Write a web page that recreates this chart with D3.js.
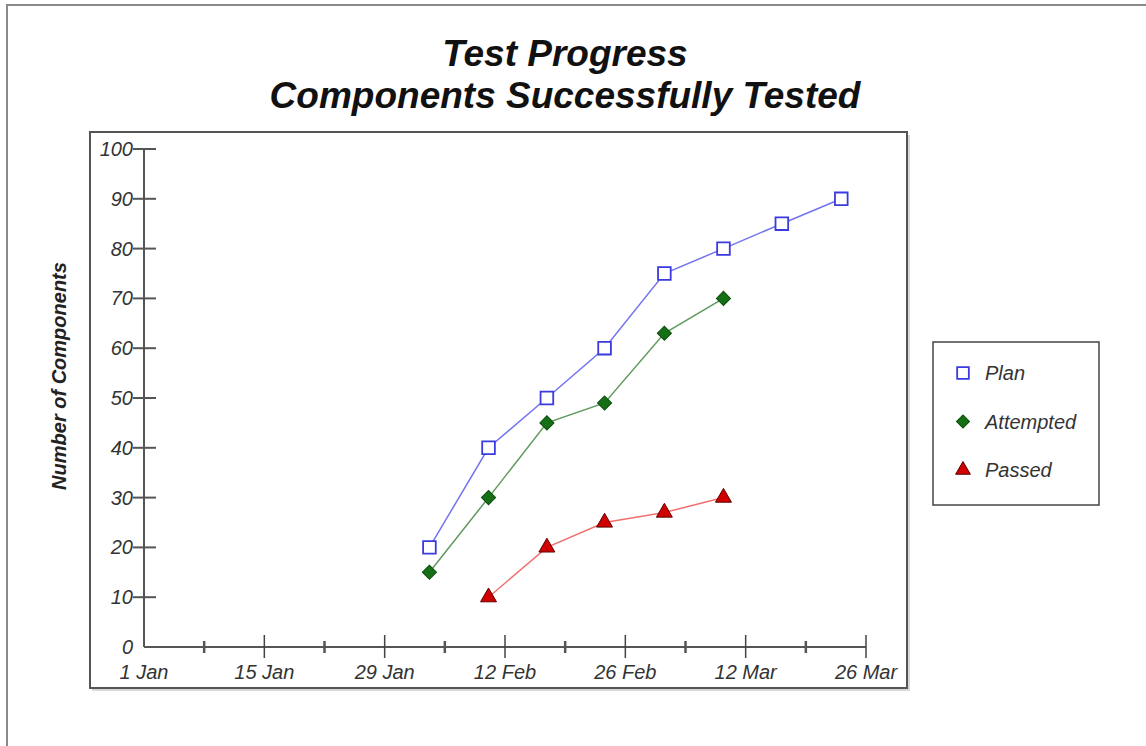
<!DOCTYPE html>
<html>
<head>
<meta charset="utf-8">
<title>Test Progress</title>
<script src="https://cdn.jsdelivr.net/npm/d3@7"></script>
<style>
	html, body { margin: 0; padding: 0; background: #fff; }
	svg { display: block; font-family: "Liberation Sans", Arial, sans-serif; }
	.tick-label { font-size: 20px; font-style: italic; fill: #333; }
	.legend-label { font-size: 20px; font-style: italic; fill: #333; }
</style>
</head>
<body>
<svg id="chart" width="1146" height="746"></svg>
<script>

// weekly reporting dates
var dates = ['2003-02-03T05:00', '2003-02-10T02:00', '2003-02-16T21:00', '2003-02-23T14:00',
	'2003-03-02T13:00', '2003-03-09T10:00', '2003-03-16T05:00', '2003-03-23T03:00'];
var planValues = [20, 40, 50, 60, 75, 80, 85, 90];
var attemptedValues = [15, 30, 45, 49, 63, 70];
var passedValues = [null, 10, 20, 25, 27, 30];

var seriesNames = ['Plan', 'Attempted', 'Passed'];
var xTickLabels = ['1 Jan', '15 Jan', '29 Jan', '12 Feb', '26 Feb', '12 Mar', '26 Mar'];
var yTicks = [0, 10, 20, 30, 40, 50, 60, 70, 80, 90, 100];

var parseDate = d3.utcParse('%Y-%m-%dT%H:%M');
var dayStart = new Date(Date.UTC(2003, 0, 1)),
	dayEnd = new Date(Date.UTC(2003, 2, 26));

var svg = d3.select('#chart');

// outer page frame
svg.append('rect')
	.attr('x', 7)
	.attr('y', 5)
	.attr('width', 1200)
	.attr('height', 800)
	.attr('fill', 'none')
	.attr('stroke', '#8a8a8a')
	.attr('stroke-width', 2);

// titles
var title = svg.append('text')
	.attr('text-anchor', 'middle')
	.attr('font-size', 37)
	.attr('font-weight', 'bold')
	.attr('font-style', 'italic')
	.attr('fill', '#111');
title.append('tspan').attr('x', 565).attr('y', 66).text('Test Progress');
title.append('tspan').attr('x', 565).attr('y', 108).text('Components Successfully Tested');

// plot frame with a soft shadow
svg.append('rect')
	.attr('x', 92)
	.attr('y', 135)
	.attr('width', 818)
	.attr('height', 556)
	.attr('fill', '#d8d8d8');
svg.append('rect')
	.attr('x', 90)
	.attr('y', 132)
	.attr('width', 817)
	.attr('height', 556)
	.attr('fill', '#fff')
	.attr('stroke', '#555')
	.attr('stroke-width', 2);

var x = d3.scaleUtc()
	.domain([dayStart, dayEnd])
	.range([144, 866]);

var y = d3.scaleLinear()
	.domain([0, 100])
	.range([647, 149]);

// y axis
var yAxis = svg.append('g').attr('class', 'y-axis');
yAxis.append('line')
	.attr('x1', x.range()[0]).attr('x2', x.range()[0])
	.attr('y1', y(100)).attr('y2', y(0))
	.attr('stroke', '#555')
	.attr('stroke-width', 2);
yAxis.selectAll('line.tick')
	.data(yTicks.filter(function (d) { return d > 0; }))
	.enter().append('line')
	.attr('class', 'tick')
	.attr('x1', x.range()[0] - 11).attr('x2', x.range()[0] + 12)
	.attr('y1', function (d) { return y(d); })
	.attr('y2', function (d) { return y(d); })
	.attr('stroke', '#555')
	.attr('stroke-width', 2);
yAxis.selectAll('text')
	.data(yTicks)
	.enter().append('text')
	.attr('class', 'tick-label')
	.attr('text-anchor', 'end')
	.attr('x', x.range()[0] - 11)
	.attr('y', function (d) { return y(d) + 7; })
	.text(function (d) { return d; });

// x axis: labelled ticks every two weeks, small ticks in between
var majorTicks = d3.range(xTickLabels.length).map(function (i) { return d3.utcDay.offset(dayStart, i * 14); });
var minorTicks = d3.range(xTickLabels.length - 1).map(function (i) { return d3.utcDay.offset(dayStart, i * 14 + 7); });

var xAxis = svg.append('g').attr('class', 'x-axis');
xAxis.append('line')
	.attr('x1', x.range()[0]).attr('x2', x.range()[1])
	.attr('y1', y(0)).attr('y2', y(0))
	.attr('stroke', '#555')
	.attr('stroke-width', 2);
xAxis.selectAll('line.major')
	.data(majorTicks.slice(1))
	.enter().append('line')
	.attr('class', 'major')
	.attr('x1', function (d) { return x(d); })
	.attr('x2', function (d) { return x(d); })
	.attr('y1', y(0) - 12).attr('y2', y(0) + 11)
	.attr('stroke', '#444')
	.attr('stroke-width', 1.5);
xAxis.selectAll('line.minor')
	.data(minorTicks)
	.enter().append('line')
	.attr('class', 'minor')
	.attr('x1', function (d) { return x(d); })
	.attr('x2', function (d) { return x(d); })
	.attr('y1', y(0) - 6).attr('y2', y(0) + 6)
	.attr('stroke', '#555')
	.attr('stroke-width', 2.5);
xAxis.selectAll('text')
	.data(majorTicks)
	.enter().append('text')
	.attr('class', 'tick-label')
	.attr('text-anchor', 'middle')
	.attr('x', function (d) { return x(d); })
	.attr('y', 679)
	.text(function (d, i) { return xTickLabels[i]; });

// y axis title
svg.append('text')
	.attr('transform', 'translate(66,376) rotate(-90)')
	.attr('text-anchor', 'middle')
	.attr('font-size', 20)
	.attr('font-weight', 'bold')
	.attr('font-style', 'italic')
	.attr('fill', '#222')
	.text('Number of Components');

// series
var series = [
	{ name: seriesNames[0], values: planValues, line: '#7373f0', stroke: '#3a3ae0', fill: '#fff', symbol: d3.symbolSquare, size: 160, rotate: 0 },
	{ name: seriesNames[1], values: attemptedValues, line: '#5f9a5f', stroke: '#0d4d0d', fill: '#157015', symbol: d3.symbolSquare, size: 100, rotate: 45 },
	{ name: seriesNames[2], values: passedValues, line: '#f07070', stroke: '#5a0000', fill: '#d00000', symbol: d3.symbolTriangle, size: 110, rotate: 0 }
];

series.forEach(function (s) {
	s.points = s.values.map(function (v, i) {
		return { date: parseDate(dates[i]), value: v };
	}).filter(function (p) { return p.value !== null; });
});

var line = d3.line()
	.x(function (d) { return x(d.date); })
	.y(function (d) { return y(d.value); });

var seriesGroups = svg.selectAll('g.series')
	.data(series)
	.enter().append('g')
	.attr('class', 'series');

seriesGroups.append('path')
	.attr('d', function (s) { return line(s.points); })
	.attr('fill', 'none')
	.attr('stroke', function (s) { return s.line; })
	.attr('stroke-width', 1.5);

seriesGroups.each(function (s) {
	d3.select(this).selectAll('path.marker')
		.data(s.points)
		.enter().append('path')
		.attr('class', 'marker')
		.attr('transform', function (d) { return 'translate(' + x(d.date) + ',' + y(d.value) + ') rotate(' + s.rotate + ')'; })
		.attr('d', d3.symbol().type(s.symbol).size(s.size))
		.attr('fill', s.fill)
		.attr('stroke', s.stroke)
		.attr('stroke-width', s.fill === '#fff' ? 1.8 : 1);
});

// legend
var legend = svg.append('g')
	.attr('class', 'legend')
	.attr('transform', 'translate(933,342)');
legend.append('rect')
	.attr('width', 166)
	.attr('height', 163)
	.attr('fill', '#fff')
	.attr('stroke', '#444')
	.attr('stroke-width', 1.5);

var legendItems = legend.selectAll('g.item')
	.data(series)
	.enter().append('g')
	.attr('class', 'item')
	.attr('transform', function (d, i) { return 'translate(30,' + (31 + i * 48.5) + ')'; });
legendItems.append('path')
	.attr('transform', function (s) { return 'rotate(' + s.rotate + ')'; })
	.attr('d', function (s) { return d3.symbol().type(s.symbol).size(s.size * 0.85)(); })
	.attr('fill', function (s) { return s.fill; })
	.attr('stroke', function (s) { return s.stroke; })
	.attr('stroke-width', function (s) { return s.fill === '#fff' ? 1.8 : 1; });
legendItems.append('text')
	.attr('class', 'legend-label')
	.attr('x', 22)
	.attr('y', 7)
	.text(function (s) { return s.name; });

</script>
</body>
</html>
